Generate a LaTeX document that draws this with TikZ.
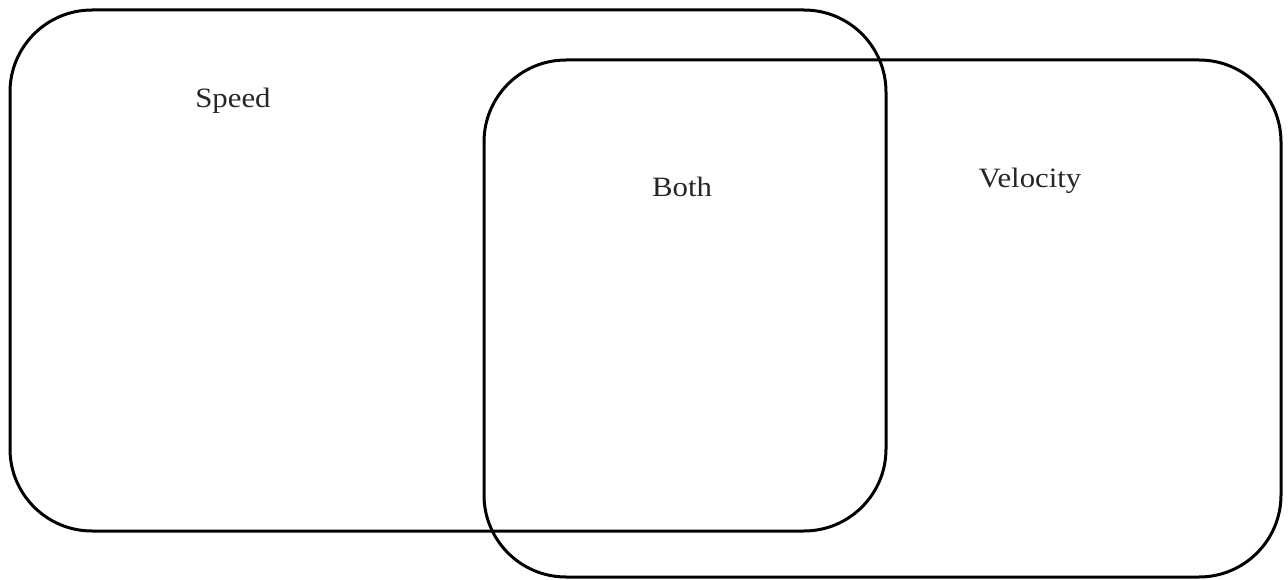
\documentclass[tikz,border=0pt]{standalone}
\usepackage{fontspec}
\setmainfont{Liberation Serif}[FakeStretch=1.1]
\begin{document}
\begin{tikzpicture}[x=1pt,y=-1pt,
  setbox/.style={draw=black,line width=3pt,rounded corners=82pt},
  lbl/.style={anchor=base,inner sep=0pt,font=\fontsize{28}{32}\selectfont,text=black!85}]
\useasboundingbox (0,0) rectangle (1288,580);
\draw[setbox] (10,10) rectangle (886,531);
\draw[setbox] (484,60) rectangle (1281,577);
\node[lbl] (speed) at (233,108) {Speed};
\node[lbl] (both) at (682,197) {Both};
\node[lbl] (vel) at (1030,188) {Velocity};
\end{tikzpicture}
\end{document}
